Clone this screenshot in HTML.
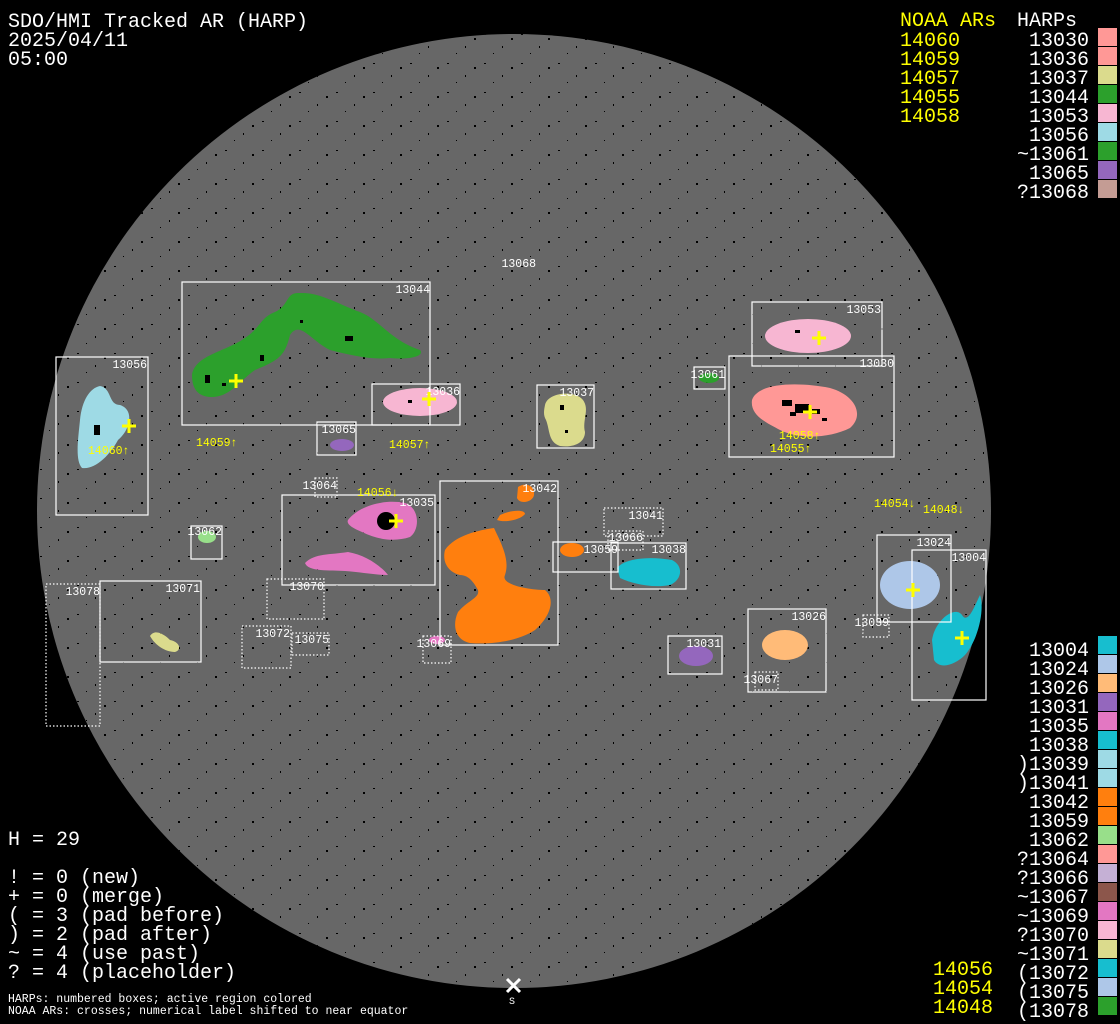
<!DOCTYPE html>
<html><head><meta charset="utf-8"><style>
html,body{margin:0;padding:0;background:#000;}
svg{display:block;}
text{font-family:"Liberation Mono","DejaVu Sans Mono",monospace;}
.t{fill:#fff;font-size:20px;}
.y{fill:#ffff00;font-size:20px;}
.s{fill:#fff;font-size:11.5px;}
.l{fill:#fff;font-size:11.5px;text-anchor:end;}
.ly{fill:#ffff00;font-size:11.5px;}
.b{fill:none;stroke:#fff;stroke-width:1.2;}
.d{fill:none;stroke:#fff;stroke-width:1.2;stroke-dasharray:1.5 2;}
.r{text-anchor:end;}
.c{stroke:#ffff00;stroke-width:3;}
</style></head><body>
<svg width="1120" height="1024" viewBox="0 0 1120 1024" xmlns="http://www.w3.org/2000/svg">
<defs>
<pattern id="sp" width="37" height="29" patternUnits="userSpaceOnUse">
<rect x="3" y="5" width="2" height="1" fill="#000"/><rect x="21" y="17" width="1" height="2" fill="#000"/><rect x="30" y="9" width="2" height="2" fill="#000"/><rect x="12" y="24" width="1" height="1" fill="#000"/>
</pattern>
</defs>
<rect width="1120" height="1024" fill="#000"/>
<circle cx="514" cy="511" r="477" fill="#676767"/>
<circle cx="514" cy="511" r="477" fill="url(#sp)"/>

<!-- blobs -->
<path d="M192,375 C195,355 225,352 245,338 C262,326 260,318 275,312 C290,305 285,292 300,293 C320,292 340,305 360,312 C380,320 390,340 420,350 C425,356 410,360 390,358 C370,360 350,355 330,350 C310,340 300,320 290,335 C285,355 280,360 255,370 C240,380 230,398 210,397 C195,396 192,385 192,375Z" fill="#2ca02c"/>
<ellipse cx="420" cy="402" rx="37" ry="14" fill="#f7b6d2"/>
<path d="M80,420 C82,400 90,388 100,386 C112,388 108,405 120,405 C135,410 130,430 118,440 C110,455 95,470 82,468 C75,460 78,440 80,420Z" fill="#9edae5"/>
<ellipse cx="342" cy="445" rx="12" ry="6" fill="#9467bd"/>
<path d="M545,405 C548,392 575,390 583,400 C590,410 582,420 585,432 C585,442 575,448 560,446 C548,442 550,430 546,420 C543,415 544,410 545,405Z" fill="#dbdb8d"/>
<ellipse cx="808" cy="336" rx="43" ry="17" fill="#f7b6d2"/>
<path d="M752,400 C758,382 800,382 830,388 C855,395 865,415 850,428 C830,438 800,440 780,430 C765,422 750,415 752,400Z" fill="#ff9896"/>
<ellipse cx="709" cy="378" rx="10" ry="5" fill="#2ca02c"/>
<path d="M348,520 C360,505 385,499 405,503 C420,508 420,530 410,537 C395,542 378,540 362,532 C352,528 346,524 348,520Z" fill="#e377c2"/>
<path d="M305,563 C315,553 330,555 348,552 C365,555 380,565 388,575 C375,575 360,572 345,571 C330,570 308,572 305,563Z" fill="#e377c2"/>
<path d="M518,487 C525,482 535,485 534,495 C533,502 520,505 517,498Z M500,515 C510,510 525,509 525,514 C520,520 505,523 497,520Z M445,550 C455,535 480,530 494,528 C502,545 510,560 505,575 C500,585 530,590 545,590 C555,598 552,615 535,630 C520,640 495,645 470,643 C455,640 452,625 458,612 C468,600 480,598 478,590 C475,585 470,575 460,575 C448,572 442,562 445,550Z" fill="#ff7f0e"/>
<ellipse cx="572" cy="550" rx="12" ry="7" fill="#ff7f0e"/>
<path d="M617,568 C625,558 650,556 672,560 C684,566 682,580 670,585 C655,588 635,585 620,578Z" fill="#17becf"/>
<ellipse cx="207" cy="537" rx="9" ry="6" fill="#98df8a"/>
<path d="M150,636 C155,628 165,635 170,640 C180,642 182,650 175,652 C165,652 155,645 150,636Z" fill="#dbdb8d"/>
<ellipse cx="696" cy="656" rx="17" ry="10" fill="#9467bd"/>
<ellipse cx="785" cy="645" rx="23" ry="15" fill="#ffbb78"/>
<ellipse cx="910" cy="585" rx="30" ry="24" fill="#aec7e8"/>
<path d="M932,640 C935,620 955,605 962,615 C968,625 975,605 980,595 C985,610 978,640 965,655 C955,665 940,670 934,660Z" fill="#17becf"/>
<ellipse cx="437" cy="640" rx="8" ry="4" fill="#e377c2"/>
<ellipse cx="386" cy="521" rx="9" ry="9" fill="#000"/>
<g fill="#000">
<rect x="782" y="400" width="10" height="6"/><rect x="795" y="404" width="14" height="9"/><rect x="812" y="409" width="8" height="5"/><rect x="790" y="412" width="6" height="4"/><rect x="822" y="418" width="5" height="3"/>
<rect x="300" y="320" width="3" height="3"/><rect x="345" y="336" width="8" height="5"/><rect x="260" y="355" width="4" height="6"/><rect x="205" y="375" width="5" height="8"/><rect x="222" y="383" width="4" height="3"/>
<rect x="94" y="425" width="6" height="10"/><rect x="560" y="405" width="4" height="5"/><rect x="565" y="430" width="3" height="3"/><rect x="795" y="330" width="5" height="3"/><rect x="408" y="400" width="4" height="3"/>
</g>

<!-- boxes -->
<rect class="b" x="182" y="282" width="248" height="143"/>
<rect class="b" x="56" y="357" width="92" height="158"/>
<rect class="b" x="372" y="384" width="88" height="41"/>
<rect class="b" x="317" y="422" width="39" height="33"/>
<rect class="b" x="537" y="385" width="57" height="63"/>
<rect class="b" x="752" y="302" width="130" height="64"/>
<rect class="b" x="729" y="356" width="165" height="101"/>
<rect class="b" x="694" y="367" width="31" height="22"/>
<rect class="d" x="315" y="478" width="22" height="19"/>
<rect class="b" x="282" y="495" width="153" height="90"/>
<rect class="b" x="440" y="481" width="118" height="164"/>
<rect class="d" x="604" y="508" width="59" height="28"/>
<rect class="d" x="608" y="531" width="35" height="19"/>
<rect class="b" x="553" y="542" width="65" height="30"/>
<rect class="b" x="611" y="543" width="75" height="46"/>
<rect class="b" x="191" y="526" width="31" height="33"/>
<rect class="d" x="267" y="579" width="57" height="40"/>
<rect class="b" x="100" y="581" width="101" height="81"/>
<rect class="d" x="46" y="584" width="54" height="142"/>
<rect class="d" x="242" y="626" width="49" height="42"/>
<rect class="d" x="292" y="633" width="37" height="22"/>
<rect class="d" x="423" y="636" width="28" height="27"/>
<rect class="b" x="668" y="636" width="54" height="38"/>
<rect class="b" x="748" y="609" width="78" height="83"/>
<rect class="d" x="755" y="672" width="23" height="18"/>
<rect class="b" x="877" y="535" width="74" height="87"/>
<rect class="b" x="912" y="550" width="74" height="150"/>
<rect class="d" x="863" y="615" width="26" height="22"/>

<!-- box labels -->
<text class="l" x="430" y="293">13044</text>
<text class="l" x="147" y="368">13056</text>
<text class="l" x="460" y="395">13036</text>
<text class="l" x="356" y="433">13065</text>
<text class="l" x="594" y="396">13037</text>
<text class="l" x="881" y="313">13053</text>
<text class="l" x="894" y="367">13030</text>
<text class="l" x="725" y="378">13061</text>
<text class="l" x="337" y="489">13064</text>
<text class="l" x="434" y="506">13035</text>
<text class="l" x="557" y="492">13042</text>
<text class="l" x="663" y="519">13041</text>
<text class="l" x="643" y="541">13066</text>
<text class="l" x="618" y="553">13059</text>
<text class="l" x="686" y="553">13038</text>
<text class="l" x="222" y="535">13062</text>
<text class="l" x="324" y="590">13070</text>
<text class="l" x="200" y="592">13071</text>
<text class="l" x="100" y="595">13078</text>
<text class="l" x="290" y="637">13072</text>
<text class="l" x="329" y="643">13075</text>
<text class="l" x="451" y="647">13069</text>
<text class="l" x="721" y="647">13031</text>
<text class="l" x="826" y="620">13026</text>
<text class="l" x="778" y="683">13067</text>
<text class="l" x="951" y="546">13024</text>
<text class="l" x="986" y="561">13004</text>
<text class="l" x="889" y="626">13039</text>
<text class="l" x="536" y="267">13068</text>

<!-- crosses -->
<g class="c">
<path d="M229,381h14M236,374v14"/>
<path d="M422,399h14M429,392v14"/>
<path d="M122,426h14M129,419v14"/>
<path d="M389,521h14M396,514v14"/>
<path d="M812,338h14M819,331v14"/>
<path d="M803,412h14M810,405v14"/>
<path d="M906,590h14M913,583v14"/>
<path d="M955,638h14M962,631v14"/>
</g>
<!-- NOAA labels -->
<text class="ly" x="196" y="446">14059↑</text>
<text class="ly" x="389" y="448">14057↑</text>
<text class="ly" x="88" y="454">14060↑</text>
<text class="ly" x="357" y="496">14056↓</text>
<text class="ly" x="779" y="439">14058↑</text>
<text class="ly" x="770" y="452">14055↑</text>
<text class="ly" x="874" y="507">14054↓</text>
<text class="ly" x="923" y="513">14048↓</text>

<!-- S marker -->
<path d="M507,979l13,13M520,979l-13,13" stroke="#fff" stroke-width="3"/>
<text class="s" x="509" y="1004" style="font-size:10px">S</text>

<!-- header -->
<text class="t" x="8" y="27">SDO/HMI Tracked AR (HARP)</text>
<text class="t" x="8" y="46">2025/04/11</text>
<text class="t" x="8" y="65">05:00</text>

<!-- left stats -->
<text class="t" x="8" y="845">H = 29</text>
<text class="t" x="8" y="883">! = 0 (new)</text>
<text class="t" x="8" y="902">+ = 0 (merge)</text>
<text class="t" x="8" y="921">( = 3 (pad before)</text>
<text class="t" x="8" y="940">) = 2 (pad after)</text>
<text class="t" x="8" y="959">~ = 4 (use past)</text>
<text class="t" x="8" y="978">? = 4 (placeholder)</text>
<text class="s" x="8" y="1002">HARPs: numbered boxes; active region colored</text>
<text class="s" x="8" y="1014">NOAA ARs: crosses; numerical label shifted to near equator</text>

<!-- top right legend -->
<text class="y" x="900" y="26">NOAA ARs</text>
<text class="t" x="1017" y="26">HARPs</text>
<g class="y">
<text x="900" y="46">14060</text><text x="900" y="65">14059</text><text x="900" y="84">14057</text><text x="900" y="103">14055</text><text x="900" y="122">14058</text>
</g>
<g class="t r">
<text x="1089" y="46">13030</text><text x="1089" y="65">13036</text><text x="1089" y="84">13037</text><text x="1089" y="103">13044</text><text x="1089" y="122">13053</text><text x="1089" y="141">13056</text><text x="1089" y="160">~13061</text><text x="1089" y="179">13065</text><text x="1089" y="198">?13068</text>
</g>
<rect x="1098" y="28" width="19" height="18" fill="#ff9896"/>
<rect x="1098" y="47" width="19" height="18" fill="#ff9896"/>
<rect x="1098" y="66" width="19" height="18" fill="#dbdb8d"/>
<rect x="1098" y="85" width="19" height="18" fill="#2ca02c"/>
<rect x="1098" y="104" width="19" height="18" fill="#f7b6d2"/>
<rect x="1098" y="123" width="19" height="18" fill="#9edae5"/>
<rect x="1098" y="142" width="19" height="18" fill="#2ca02c"/>
<rect x="1098" y="161" width="19" height="18" fill="#9467bd"/>
<rect x="1098" y="180" width="19" height="18" fill="#c49c94"/>

<!-- bottom right legend -->
<g class="t r">
<text x="1089" y="656">13004</text><text x="1089" y="675">13024</text><text x="1089" y="694">13026</text><text x="1089" y="713">13031</text><text x="1089" y="732">13035</text><text x="1089" y="751">13038</text><text x="1089" y="770">)13039</text><text x="1089" y="789">)13041</text><text x="1089" y="808">13042</text><text x="1089" y="827">13059</text><text x="1089" y="846">13062</text><text x="1089" y="865">?13064</text><text x="1089" y="884">?13066</text><text x="1089" y="903">~13067</text><text x="1089" y="922">~13069</text><text x="1089" y="941">?13070</text><text x="1089" y="960">~13071</text><text x="1089" y="979">(13072</text><text x="1089" y="998">(13075</text><text x="1089" y="1017">(13078</text>
</g>
<g class="y r">
<text x="993" y="975">14056</text><text x="993" y="994">14054</text><text x="993" y="1013">14048</text>
</g>
<g>
<rect x="1098" y="636" width="19" height="18" fill="#17becf"/>
<rect x="1098" y="655" width="19" height="18" fill="#aec7e8"/>
<rect x="1098" y="674" width="19" height="18" fill="#ffbb78"/>
<rect x="1098" y="693" width="19" height="18" fill="#9467bd"/>
<rect x="1098" y="712" width="19" height="18" fill="#e377c2"/>
<rect x="1098" y="731" width="19" height="18" fill="#17becf"/>
<rect x="1098" y="750" width="19" height="18" fill="#9edae5"/>
<rect x="1098" y="769" width="19" height="18" fill="#9edae5"/>
<rect x="1098" y="788" width="19" height="18" fill="#ff7f0e"/>
<rect x="1098" y="807" width="19" height="18" fill="#ff7f0e"/>
<rect x="1098" y="826" width="19" height="18" fill="#98df8a"/>
<rect x="1098" y="845" width="19" height="18" fill="#ff9896"/>
<rect x="1098" y="864" width="19" height="18" fill="#c5b0d5"/>
<rect x="1098" y="883" width="19" height="18" fill="#8c564b"/>
<rect x="1098" y="902" width="19" height="18" fill="#e377c2"/>
<rect x="1098" y="921" width="19" height="18" fill="#f7b6d2"/>
<rect x="1098" y="940" width="19" height="18" fill="#dbdb8d"/>
<rect x="1098" y="959" width="19" height="18" fill="#17becf"/>
<rect x="1098" y="978" width="19" height="18" fill="#aec7e8"/>
<rect x="1098" y="997" width="19" height="18" fill="#2ca02c"/>
</g>
</svg>
</body></html>
